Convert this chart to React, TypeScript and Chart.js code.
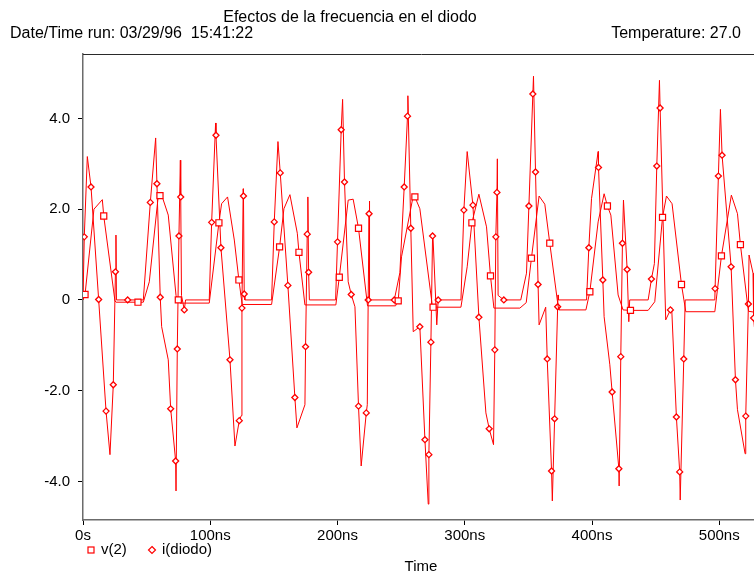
import React, { useEffect, useRef } from 'react';
import { Chart, registerables } from 'chart.js';

Chart.register(...registerables);

// ---- texts ----
const chartTitle = 'Efectos de la frecuencia en el diodo';
const runInfo = 'Date/Time run: 03/29/96  15:41:22';
const tempInfo = 'Temperature: 27.0';
const xAxisTitle = 'Time';
const seriesNames = ['v(2)', 'i(diodo)'];

// ---- axes ----
const xTickValues = [0, 100, 200, 300, 400, 500];
const xTickLabels = ['0s', '100ns', '200ns', '300ns', '400ns', '500ns'];
const yTickValues = [-4, -2, 0, 2, 4];
const yTickLabels = ['-4.0', '-2.0', '0', '2.0', '4.0'];
const xRange = [0, 532];
const yRange = [-4.85, 5.42];

// ---- v(2): time (ns), value, marker flag ----
const v2Time = [
  0.0, 1.6, 8.6, 15.2, 16.3, 25.1, 26.0, 43.2, 47.4,
  52.1, 59.2, 60.5, 62.3, 67.0, 73.1, 74.9, 76.2, 99.2,
  106.8, 108.9, 113.6, 118.9, 122.5, 125.1, 148.2,
  154.5, 157.9, 162.6, 168.4, 169.7, 174.4, 198.7,
  201.4, 208.4, 212.3, 216.5, 223.6, 245.6,
  247.7, 250.3, 259.6, 260.8, 264.7, 274.6, 275.1, 297.0,
  301.9, 305.6, 311.1, 317.1, 320.2, 322.9, 343.3,
  348.3, 352.4, 358.4, 362.9, 366.8, 373.4, 374.0, 395.2,
  398.3, 404.8, 409.5, 412.1, 414.8, 420.5, 424.4, 430.2, 444.1,
  449.3, 455.4, 458.5, 462.9, 470.3, 473.7, 496.5,
  501.7, 509.5, 514.3, 516.6, 522.1, 523.0, 527.6,
];
const v2Value = [
  0.0, 0.12, 2.0, 2.21, 1.85, -0.02, -0.05, -0.05, -0.05,
  0.4, 2.31, 2.3, 2.27, 1.87, 0.1, 0.0, -0.07, -0.07,
  1.7, 2.12, 2.27, 1.32, 0.44, -0.1, -0.1,
  1.17, 2.01, 2.32, 1.47, 1.05, -0.11, -0.11,
  0.5, 2.2, 2.22, 1.58, -0.13, -0.13,
  -0.02, 0.95, 2.31, 2.27, 2.01, -0.15, -0.16, -0.16,
  0.73, 1.7, 2.33, 1.61, 0.53, -0.18, -0.18,
  -0.06, 0.92, 2.29, 2.11, 1.25, -0.15, -0.22, -0.22,
  0.18, 1.72, 2.34, 2.07, 1.87, 0.11, -0.22, -0.23, -0.23,
  -0.04, 1.82, 2.29, 2.12, 0.34, -0.26, -0.26,
  0.97, 2.31, 1.9, 1.22, -0.07, -0.25, -0.27,
];
const v2Marker = [
  0, 1, 0, 0, 1, 0, 0, 1, 0,
  0, 0, 1, 0, 0, 0, 1, 0, 0,
  1, 0, 0, 0, 1, 0, 0,
  1, 0, 0, 0, 1, 0, 0,
  1, 0, 0, 1, 0, 0,
  1, 0, 0, 1, 0, 0, 1, 0,
  0, 1, 0, 0, 1, 0, 0,
  0, 1, 0, 0, 1, 0, 0, 0,
  1, 0, 0, 1, 0, 0, 0, 1, 0,
  0, 1, 0, 0, 1, 0, 0,
  1, 0, 0, 1, 0, 0, 0,
];

// ---- i(diodo): time (ns), value, marker flag ----
const iTime = [
  0.0, 1.0, 3.4, 6.3, 12.3, 18.1, 21.2, 23.8, 25.5, 25.9, 26.3, 35.1, 47.4,
  52.9, 57.1, 58.1, 60.7, 61.8, 67.0, 68.9, 72.8, 73.1, 74.1, 75.4, 76.5, 76.8, 77.4, 79.6, 80.6, 99.2,
  101.1, 104.2, 104.5, 108.4, 115.5, 119.4, 122.8, 124.4, 124.9, 125.9, 126.1, 126.7, 127.2, 148.2,
  150.3, 153.2, 155.0, 161.0, 166.5, 168.1, 174.4, 174.9, 176.2, 176.7, 177.3, 177.9, 198.5,
  200.0, 202.9, 204.0, 205.5, 208.4, 210.8, 213.7, 216.5, 218.6, 222.6, 223.4, 224.1, 224.8, 225.0, 225.3, 244.6,
  249.0, 252.4, 255.0, 255.3, 257.6, 259.5, 264.7, 268.7, 271.3, 271.8, 273.4, 274.7, 274.9, 278.0, 279.1, 297.0,
  299.3, 301.9, 306.4, 311.1, 316.6, 319.2, 322.6, 323.6, 324.4, 325.3, 325.6, 326.2, 330.7, 344.0,
  348.5, 350.4, 353.5, 354.0, 355.6, 357.6, 358.4, 363.6, 364.8, 368.2, 368.8, 370.6, 373.0, 373.3, 373.6, 395.7,
  397.5, 399.6, 404.8, 405.1, 408.5, 409.5, 414.0, 415.8, 421.1, 421.3, 422.6, 423.9, 424.7, 427.6, 428.9, 429.6, 444.1,
  446.7, 449.0, 450.9, 453.0, 453.5, 457.9, 461.6, 462.6, 466.3, 468.9, 469.3, 472.1, 473.2, 496.5,
  496.7, 499.3, 500.9, 502.2, 509.3, 512.7, 514.3, 520.3, 520.8, 522.9, 523.4, 526.5, 527.0, 527.6,
];
const iValue = [
  0.0, 1.39, 3.16, 2.49, 0.01, -2.45, -3.41, -1.87, 0.62, 1.43, 0.0, 0.0, 0.0,
  2.15, 3.57, 2.56, 0.06, -0.59, -1.32, -2.4, -3.55, -4.21, -1.08, 1.41, 3.08, 2.27, 0.1, -0.22, 0.0, 0.0,
  1.71, 3.9, 3.63, 1.15, -1.32, -3.22, -2.66, -2.55, -0.18, 2.45, 2.29, 0.13, 0.0, 0.0,
  1.72, 3.49, 2.8, 0.32, -2.15, -2.82, -2.31, -1.03, 1.45, 2.27, 0.61, 0.0, 0.0,
  1.28, 3.75, 4.42, 2.6, 0.4, 0.12, -0.15, -2.34, -3.66, -2.49, -2.31, 0.0, 1.9, 2.18, 0.0, 0.0,
  0.6, 2.49, 4.05, 4.5, 1.58, -0.7, -0.59, -3.08, -4.5, -3.41, -0.93, 1.41, 1.47, -0.55, 0.0, 0.0,
  1.98, 3.27, 2.09, -0.38, -2.49, -2.84, -3.19, -1.1, 1.39, 2.37, 3.11, 0.1, 0.0, 0.0,
  0.59, 2.07, 4.54, 4.93, 2.82, 0.34, -0.55, -0.16, -1.3, -3.77, -4.43, -2.62, -0.15, 0.11, 0.0, 0.0,
  1.15, 2.23, 3.27, 2.92, 0.44, -0.37, -1.43, -2.03, -3.72, -4.1, -1.25, 1.25, 2.2, 0.67, -0.48, 0.0, 0.0,
  0.46, 0.8, 2.95, 4.84, 4.23, -0.44, -0.22, -0.17, -2.58, -3.79, -4.41, -1.3, 0.0, 0.0,
  0.25, 2.73, 4.2, 3.19, 0.73, -1.76, -2.42, -3.39, -2.56, -0.09, 0.99, 0.59, -0.4, -0.6,
];
const iMarker = [
  0, 1, 0, 1, 1, 1, 0, 1, 1, 0, 0, 1, 0,
  1, 0, 1, 1, 0, 0, 1, 1, 0, 1, 1, 0, 1, 0, 1, 0, 0,
  1, 0, 1, 1, 1, 0, 1, 0, 1, 0, 1, 1, 0, 0,
  1, 0, 1, 1, 1, 0, 0, 1, 1, 0, 1, 0, 0,
  1, 1, 0, 1, 0, 1, 0, 1, 0, 1, 0, 1, 1, 0, 0, 1,
  0, 1, 1, 0, 1, 0, 1, 1, 0, 1, 1, 1, 0, 0, 1, 0,
  1, 0, 1, 1, 0, 1, 0, 1, 1, 1, 0, 0, 1, 0,
  0, 1, 1, 0, 1, 1, 0, 0, 1, 1, 0, 1, 1, 0, 0, 0,
  1, 0, 0, 1, 1, 0, 0, 1, 1, 0, 1, 1, 0, 1, 0, 0, 0,
  1, 0, 1, 0, 1, 0, 1, 0, 1, 1, 0, 1, 0, 0,
  1, 1, 0, 1, 1, 1, 0, 0, 1, 1, 0, 0, 1, 0,
];

const RED = '#ff0000';
const FONT_FAMILY = '"Liberation Sans", Arial, Helvetica, sans-serif';

function toPoints(t: number[], v: number[]) {
  return t.map((x, k) => ({ x, y: v[k] }));
}

function drawSquare(ctx: CanvasRenderingContext2D, x: number, y: number, s: number) {
  ctx.strokeRect(x - s / 2, y - s / 2, s, s);
}

function drawDiamond(ctx: CanvasRenderingContext2D, x: number, y: number, r: number) {
  ctx.beginPath();
  ctx.moveTo(x, y - r);
  ctx.lineTo(x + r, y);
  ctx.lineTo(x, y + r);
  ctx.lineTo(x - r, y);
  ctx.closePath();
  ctx.stroke();
}

// Header lines, plot frame, legend and axis caption
const decorations = {
  id: 'decorations',
  afterDraw(chart: any) {
    const { ctx, chartArea: a } = chart;
    ctx.save();
    ctx.strokeStyle = '#2a2a2a';
    ctx.lineWidth = 1;
    ctx.beginPath();
    ctx.moveTo(a.left, a.top + 0.5);
    ctx.lineTo(a.right, a.top + 0.5);
    ctx.lineTo(a.right, a.bottom);
    ctx.stroke();

    ctx.fillStyle = '#000';
    ctx.textBaseline = 'middle';
    ctx.font = `16px ${FONT_FAMILY}`;
    ctx.textAlign = 'center';
    ctx.fillText(chartTitle, 350, 18);
    ctx.textAlign = 'left';
    ctx.fillText(runInfo, 10, 34);
    ctx.textAlign = 'right';
    ctx.fillText(tempInfo, 741, 34);

    ctx.font = `15px ${FONT_FAMILY}`;
    ctx.textAlign = 'center';
    ctx.fillText(xAxisTitle, 421, 567);

    ctx.strokeStyle = RED;
    ctx.lineWidth = 1.2;
    drawSquare(ctx, 91, 550, 6);
    drawDiamond(ctx, 152, 550, 3.5);
    ctx.textAlign = 'left';
    ctx.fillText(seriesNames[0], 101, 550);
    ctx.fillText(seriesNames[1], 162, 550);
    ctx.restore();
  },
};

export default function App() {
  const canvasRef = useRef<HTMLCanvasElement | null>(null);

  useEffect(() => {
    const canvas = canvasRef.current;
    if (!canvas) return;
    const chart = new Chart(canvas, {
      type: 'line',
      data: {
        datasets: [
          {
            label: seriesNames[0],
            data: toPoints(v2Time, v2Value),
            borderColor: RED,
            borderWidth: 1,
            tension: 0,
            pointStyle: 'rect',
            pointRadius: v2Marker.map((m) => (m ? 4.3 : 0)),
            pointBorderWidth: 1.2,
            pointBorderColor: RED,
            pointBackgroundColor: '#ffffff',
          },
          {
            label: seriesNames[1],
            data: toPoints(iTime, iValue),
            borderColor: RED,
            borderWidth: 1,
            tension: 0,
            pointStyle: 'rectRot',
            pointRadius: iMarker.map((m) => (m ? 3 : 0)),
            pointBorderWidth: 1.3,
            pointBorderColor: RED,
            pointBackgroundColor: '#ffffff',
          },
        ],
      },
      options: {
        animation: false,
        responsive: false,
        devicePixelRatio: 1,
        layout: { padding: { top: 54, right: 40, left: 0, bottom: 0 } },
        plugins: {
          legend: { display: false },
          title: { display: false },
          tooltip: { enabled: false },
        },
        scales: {
          x: {
            type: 'linear',
            min: xRange[0],
            max: xRange[1],
            afterFit: (s: any) => {
              s.height = 57;
            },
            afterBuildTicks: (s: any) => {
              s.ticks = xTickValues.map((value) => ({ value }));
            },
            ticks: {
              color: '#000',
              font: { family: FONT_FAMILY, size: 15 },
              padding: 2,
              maxRotation: 0,
              autoSkip: false,
              callback: (val: any) => xTickLabels[xTickValues.indexOf(Number(val))],
            },
            grid: {
              display: true,
              drawOnChartArea: false,
              drawTicks: true,
              tickLength: 5,
              color: '#000',
            },
            border: { display: true, color: '#6b6b6b', width: 1.5 },
          },
          y: {
            type: 'linear',
            min: yRange[0],
            max: yRange[1],
            afterFit: (s: any) => {
              s.width = 83;
            },
            afterBuildTicks: (s: any) => {
              s.ticks = yTickValues.map((value) => ({ value }));
            },
            ticks: {
              color: '#000',
              font: { family: FONT_FAMILY, size: 15 },
              padding: 8,
              autoSkip: false,
              callback: (val: any) => yTickLabels[yTickValues.indexOf(Number(val))],
            },
            grid: {
              display: true,
              drawOnChartArea: false,
              drawTicks: true,
              tickLength: 5,
              color: '#000',
            },
            border: { display: true, color: '#6b6b6b', width: 1.5 },
          },
        },
      },
      plugins: [decorations],
    });
    return () => chart.destroy();
  }, []);

  return (
    <div
      style={{
        position: 'fixed',
        left: 0,
        top: 0,
        width: 754,
        height: 577,
        overflow: 'hidden',
        background: '#fff',
      }}
    >
      <canvas ref={canvasRef} width={800} height={577} style={{ display: 'block' }} />
    </div>
  );
}
